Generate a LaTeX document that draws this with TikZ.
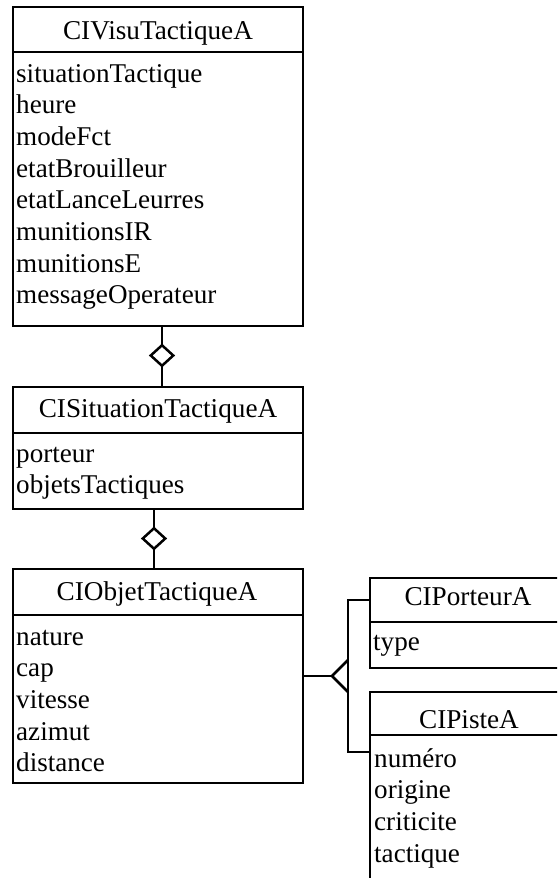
\documentclass[tikz,border=0pt]{standalone}
\usepackage{fontspec}
\setmainfont{Liberation Serif}
\usetikzlibrary{shapes.geometric}
\begin{document}
\begin{tikzpicture}[x=1pt,y=1pt,
  lw/.style={line width=2.5pt},
  classbox/.style={draw, lw, rectangle, anchor=north west, inner sep=0pt, outer sep=0pt},
  ctitle/.style={anchor=base, inner sep=0pt, font=\fontsize{27.2}{32}\selectfont},
  attr/.style={anchor=base west, inner sep=0pt, font=\fontsize{27.1}{32}\selectfont},
  agg/.style={draw, lw, diamond, fill=white, inner sep=0pt, outer sep=0pt, minimum width=22.5pt, minimum height=20.5pt},
]
\path[use as bounding box] (0,0) rectangle (557,-878);
\clip (0,0) rectangle (557,-878);

% boxes
\node[classbox, minimum width=290pt, minimum height=319pt] (b1) at (13,-7) {};
\node[classbox, minimum width=290pt, minimum height=122pt] (b2) at (13,-387) {};
\node[classbox, minimum width=290pt, minimum height=214pt] (b3) at (13,-569) {};
\node[classbox, minimum width=196pt, minimum height=90pt] (p) at (370,-578) {};
\node[classbox, minimum width=196pt, minimum height=208pt] (s) at (370,-692) {};

% dividers
\draw[lw] (b1.west |- 0,-52) -- (b1.east |- 0,-52);
\draw[lw] (b2.west |- 0,-433) -- (b2.east |- 0,-433);
\draw[lw] (b3.west |- 0,-615) -- (b3.east |- 0,-615);
\draw[lw] (p.west |- 0,-622) -- (p.east |- 0,-622);
\draw[lw] (s.west |- 0,-735) -- (s.east |- 0,-735);

% titles
\node[ctitle] (t1) at (158,-39.5) {CIVisuTactiqueA};
\node[ctitle] (t2) at (158,-417) {CISituationTactiqueA};
\node[ctitle] (t3) at (157,-600) {CIObjetTactiqueA};
\node[ctitle] (t4) at (468,-605) {CIPorteurA};
\node[ctitle] (t5) at (469,-728) {CIPisteA};

% attributes box 1
\node[attr] (a11) at (16,-82) {situationTactique};
\node[attr] (a12) at (16,-113.7) {heure};
\node[attr] (a13) at (16,-145.4) {modeFct};
\node[attr] (a14) at (16,-177.1) {etatBrouilleur};
\node[attr] (a15) at (16,-208.8) {etatLanceLeurres};
\node[attr] (a16) at (16,-240.5) {munitionsIR};
\node[attr] (a17) at (16,-272.2) {munitionsE};
\node[attr] (a18) at (16,-303.9) {messageOperateur};

% attributes box 2
\node[attr] (a21) at (16,-462) {porteur};
\node[attr] (a22) at (16,-493.5) {objetsTactiques};

% attributes box 3
\node[attr] (a31) at (16,-645) {nature};
\node[attr] (a32) at (16,-676.7) {cap};
\node[attr] (a33) at (16,-708.4) {vitesse};
\node[attr] (a34) at (16,-740.1) {azimut};
\node[attr] (a35) at (16,-771.8) {distance};

% attributes porteur
\node[attr] (a41) at (373,-650) {type};

% attributes piste
\node[attr] (a51) at (374,-767) {numéro};
\node[attr] (a52) at (374,-798.7) {origine};
\node[attr] (a53) at (374,-830.4) {criticite};
\node[attr] (a54) at (374,-862.1) {tactique};

% aggregations
\node[agg] (d1) at (162,-355.5) {};
\node[agg] (d2) at (154,-538.5) {};
\draw[lw] (d1.north) -- (d1.north |- b1.south);
\draw[lw] (d1.south) -- (d1.south |- b2.north);
\draw[lw] (d2.north) -- (d2.north |- b2.south);
\draw[lw] (d2.south) -- (d2.south |- b3.north);

% generalization
\coordinate (tip) at (332,-676);
\coordinate (tri top) at (348,-660);
\coordinate (tri bot) at (348,-692);
\coordinate (bus top) at (348,-600);
\coordinate (bus bot) at (348,-752);
\draw[lw] (b3.east |- tip) -- (tip);
\draw[lw, line join=miter] (tri top) -- (tip) -- (tri bot);
\draw[lw] (p.west |- bus top) -- (bus top) -- (bus bot) -- (s.west |- bus bot);
\end{tikzpicture}
\end{document}
